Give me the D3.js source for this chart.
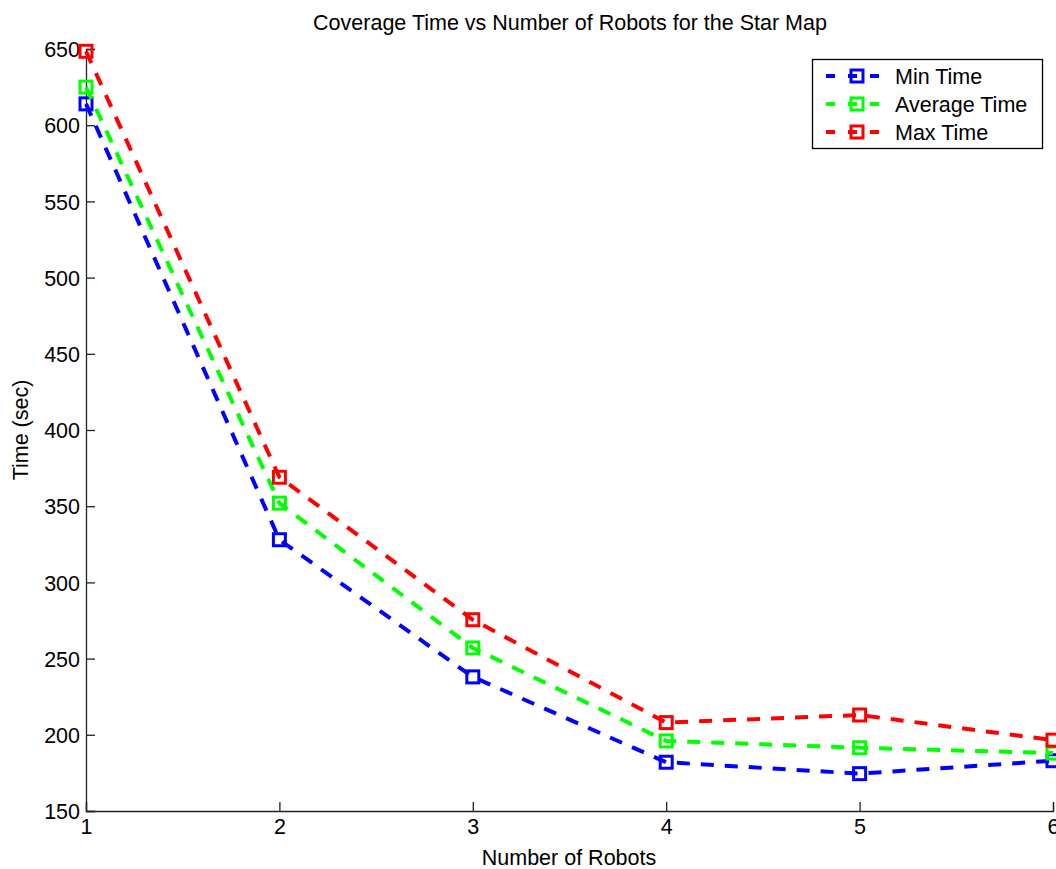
<!DOCTYPE html>
<html><head><meta charset="utf-8">
<script src="https://cdn.jsdelivr.net/npm/d3@7"></script>
<style>body{margin:0;background:#fff;} svg{display:block;font-family:"Liberation Sans",Arial,Helvetica,sans-serif;}</style>
</head><body>
<svg id="c" width="1056" height="869"></svg>
<script>
const robots = [1, 2, 3, 4, 5, 6];
const minTime = [614, 328, 238, 182, 174.5, 183];
const avgTime = [625, 352, 257, 196, 191.5, 188];
const maxTime = [648.5, 369, 275.5, 208, 213, 196.5];
const seriesNames = ["Min Time", "Average Time", "Max Time"];
const seriesColors = ["#0000ff", "#00ff00", "#ff0000"];
const yTicks = [150, 200, 250, 300, 350, 400, 450, 500, 550, 600, 650];
const xTicks = [1, 2, 3, 4, 5, 6];

const series = [minTime, avgTime, maxTime];
const svg = d3.select("#c");
const L = 86, R = 1053, T = 49, B = 811;
const x = d3.scaleLinear().domain([1, 6]).range([L, R]);
const y = d3.scaleLinear().domain([150, 650]).range([B, T]);
const FS = 21.5;

// axes
const yAxis = d3.axisLeft(y).tickValues(yTicks).tickSize(-9).tickPadding(6).tickFormat(d3.format("d"));
const xAxis = d3.axisBottom(x).tickValues(xTicks).tickSize(-9).tickPadding(8).tickFormat(d3.format("d"));
const gy = svg.append("g").attr("transform", `translate(${L},0)`).call(yAxis);
const gx = svg.append("g").attr("transform", `translate(0,${B})`).call(xAxis);
[gx, gy].forEach(g => {
  g.select(".domain").attr("stroke", "#222").attr("stroke-width", 1.3);
  g.selectAll(".tick line").attr("stroke", "#222").attr("stroke-width", 1.3);
  g.selectAll(".tick text").attr("fill", "#000").attr("font-size", FS).attr("font-family", '"Liberation Sans",Arial,sans-serif');
});
gy.selectAll(".tick text").attr("dy", "0.36em");

// lines
const line = d3.line().x((d, i) => x(robots[i])).y(d => y(d));
series.forEach((s, k) => {
  svg.append("path").datum(s).attr("d", line).attr("fill", "none")
    .attr("stroke", seriesColors[k]).attr("stroke-width", 4).attr("stroke-dasharray", "13,11");
  svg.selectAll(null).data(s).enter().append("rect")
    .attr("x", (d, i) => x(robots[i]) - 6).attr("y", d => y(d) - 6)
    .attr("width", 12).attr("height", 12).attr("fill", "none")
    .attr("stroke", seriesColors[k]).attr("stroke-width", 3);
});

// title & labels
svg.append("text").attr("x", 570).attr("y", 30).attr("text-anchor", "middle")
  .attr("font-size", FS).text("Coverage Time vs Number of Robots for the Star Map");
svg.append("text").attr("x", 569).attr("y", 865).attr("text-anchor", "middle")
  .attr("font-size", FS).text("Number of Robots");
svg.append("text").attr("transform", "translate(28,430) rotate(-90)").attr("text-anchor", "middle")
  .attr("font-size", FS).text("Time (sec)");

// legend
const lg = svg.append("g");
lg.append("rect").attr("x", 812.5).attr("y", 59.5).attr("width", 230).attr("height", 89)
  .attr("fill", "#fff").attr("stroke", "#000").attr("stroke-width", 1.3);
seriesNames.forEach((n, k) => {
  const yy = 76 + k * 28;
  lg.append("line").attr("x1", 826).attr("x2", 888).attr("y1", yy).attr("y2", yy)
    .attr("stroke", seriesColors[k]).attr("stroke-width", 4).attr("stroke-dasharray", "9,13");
  lg.append("rect").attr("x", 851).attr("y", yy - 6).attr("width", 12).attr("height", 12)
    .attr("fill", "none").attr("stroke", seriesColors[k]).attr("stroke-width", 3);
  lg.append("text").attr("x", 895).attr("y", yy).attr("dy", "0.36em").attr("font-size", FS).text(n);
});
</script>
</body></html>
